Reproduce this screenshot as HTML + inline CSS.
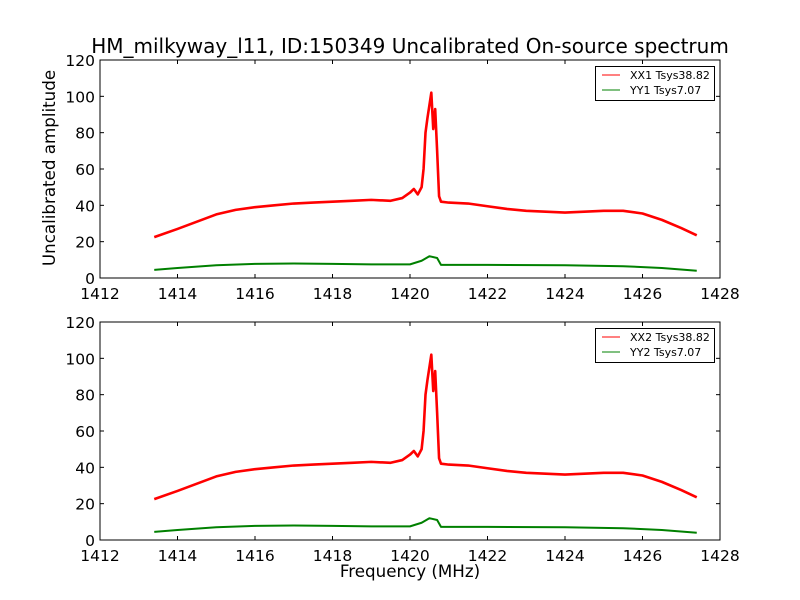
<!DOCTYPE html>
<html><head><meta charset="utf-8"><style>
body{margin:0;background:#fff}
svg{display:block;font-family:"DejaVu Sans","Liberation Sans",sans-serif}
</style></head><body>
<svg id="c" width="800" height="600"></svg>
<script>
const xTicks=[1412,1414,1416,1418,1420,1422,1424,1426,1428];
const yTicks=[0,20,40,60,80,100,120];
const freqXX=[1413.4,1414,1414.5,1415,1415.5,1416,1416.5,1417,1417.5,1418,1418.5,1419,1419.5,1419.8,1420,1420.1,1420.2,1420.3,1420.35,1420.4,1420.45,1420.5,1420.55,1420.6,1420.65,1420.7,1420.75,1420.8,1421,1421.5,1422,1422.5,1423,1423.5,1424,1424.5,1425,1425.5,1426,1426.5,1427,1427.4];
const ampXX=[22.5,27,31,35,37.5,39,40,41,41.5,42,42.5,43,42.5,44,47,49,46,50,60,80,88,95,102,82,93,70,45,42,41.5,41,39.5,38,37,36.5,36,36.5,37,37,35.5,32,27.5,23.5];
const freqYY=[1413.4,1414,1415,1416,1417,1418,1419,1420,1420.3,1420.5,1420.7,1420.8,1422,1424,1425.5,1426.5,1427.4];
const ampYY=[4.5,5.5,7,7.8,8,7.8,7.5,7.5,9.5,12,11,7.2,7.2,7,6.5,5.5,4];
const panels=[{top:60,l1:"XX1 Tsys38.82",l2:"YY1 Tsys7.07",n:1},{top:322,l1:"XX2 Tsys38.82",l2:"YY2 Tsys7.07",n:2}];
const L=100,R=720,H=218,NS="http://www.w3.org/2000/svg";
const svg=document.getElementById('c');
function mk(t,a,p){const e=document.createElementNS(NS,t);for(const k in a)e.setAttribute(k,a[k]);(p||svg).appendChild(e);return e;}
const sx=v=>L+(v-1412)/16*(R-L);
const t=mk('text',{x:410,y:53,'font-size':20,'text-anchor':'middle'});


t.textContent='HM_milkyway_l11, ID:150349 Uncalibrated On-source spectrum';
panels.forEach(p=>{
 const sy=v=>p.top+H-v/120*H;
 const g=mk('g',{});
 
 
 const line=(fr,am,col,name,w)=>{const pl=mk('polyline',{points:fr.map((f,i)=>sx(f)+','+sy(am[i])).join(' '),fill:'none',stroke:col,'stroke-width':w,'stroke-linejoin':'round'},g);
  
  };
 line(freqXX,ampXX,'#ff0000','xx-series',2.6);
 line(freqYY,ampYY,'#008000','yy-series',2);
 mk('rect',{x:L,y:p.top,width:R-L,height:H,fill:'none',stroke:'#000','stroke-width':1},g);
 xTicks.forEach(v=>{const x=sx(v);mk('line',{x1:x,x2:x,y1:p.top+H,y2:p.top+H-4,stroke:'#000'},g);mk('line',{x1:x,x2:x,y1:p.top,y2:p.top+4,stroke:'#000'},g);
  const tx=mk('text',{x:x,y:p.top+H+21,'font-size':15.5,'text-anchor':'middle'},g);tx.textContent=v;
  
  });
 yTicks.forEach(v=>{const y=sy(v);mk('line',{x1:L,x2:L+4,y1:y,y2:y,stroke:'#000'},g);mk('line',{x1:R,x2:R-4,y1:y,y2:y,stroke:'#000'},g);
  const ty=mk('text',{x:L-5,y:y+6,'font-size':15.5,'text-anchor':'end'},g);ty.textContent=v;
  
  });
 const lg=mk('g',{},g);
 
 
 mk('rect',{x:595.5,y:p.top+6.5,width:119,height:34,fill:'#fff',stroke:'#000'},lg);
 mk('line',{x1:602,x2:620,y1:p.top+15,y2:p.top+15,stroke:'#ff0000'},lg);
 mk('line',{x1:602,x2:620,y1:p.top+30,y2:p.top+30,stroke:'#008000'},lg);
 const a=mk('text',{x:630,y:p.top+19,'font-size':11},lg);a.textContent=p.l1;
 const b=mk('text',{x:630,y:p.top+34,'font-size':11},lg);b.textContent=p.l2;
});
const yl=mk('text',{x:55,y:168,'font-size':16.7,'text-anchor':'middle',transform:'rotate(-90 55 168)'});


yl.textContent='Uncalibrated amplitude';
const xl=mk('text',{x:410,y:577,'font-size':16.7,'text-anchor':'middle'});


xl.textContent='Frequency (MHz)';
</script>
</body></html>
